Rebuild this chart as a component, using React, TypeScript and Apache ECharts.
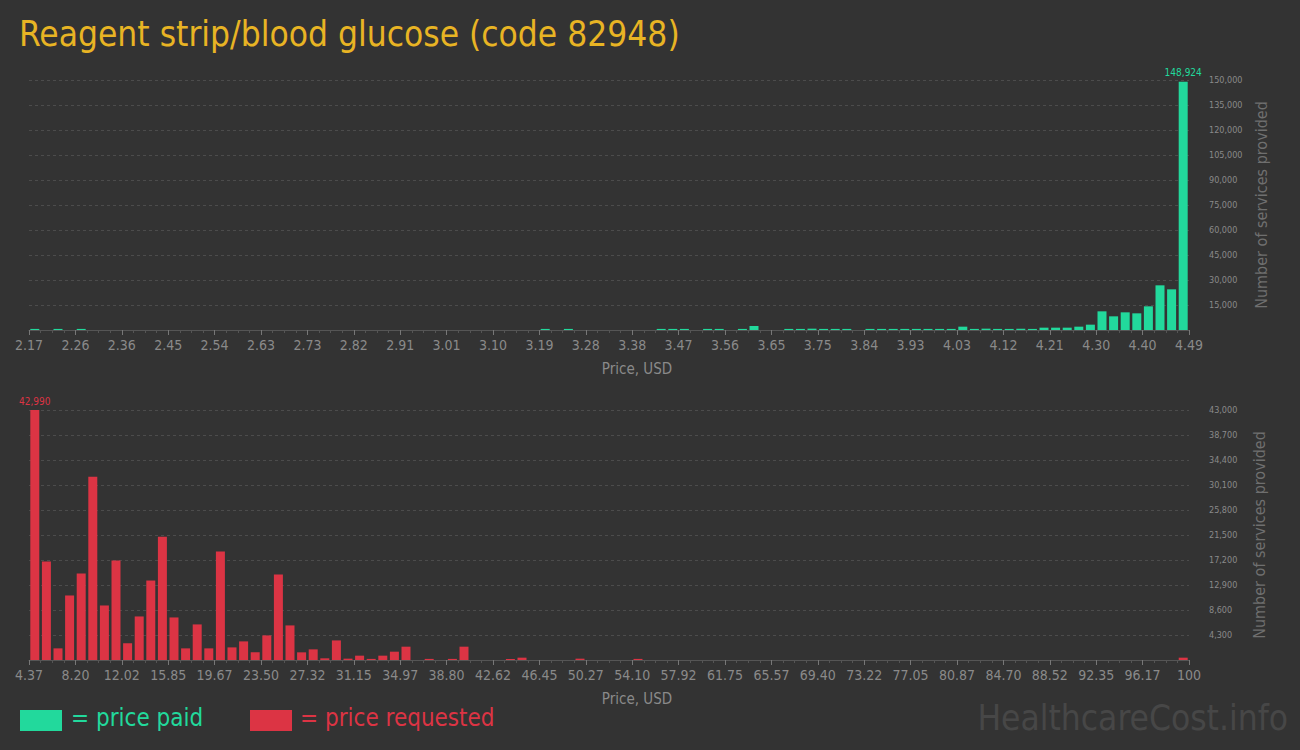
import React, { useEffect, useRef } from "react";
import * as echarts from "echarts";

const paidTickLabels = [
  "2.17", "2.26", "2.36", "2.45", "2.54", "2.63", "2.73", "2.82", "2.91", "3.01",
  "3.10", "3.19", "3.28", "3.38", "3.47", "3.56", "3.65", "3.75", "3.84", "3.93",
  "4.03", "4.12", "4.21", "4.30", "4.40", "4.49",
];
const requestedTickLabels = [
  "4.37", "8.20", "12.02", "15.85", "19.67", "23.50", "27.32", "31.15", "34.97", "38.80",
  "42.62", "46.45", "50.27", "54.10", "57.92", "61.75", "65.57", "69.40", "73.22", "77.05",
  "80.87", "84.70", "88.52", "92.35", "96.17", "100",
];

// 100 price bins each
const paidCounts = [
  650, 0, 650, 0, 650, 0, 0, 0, 0, 0,
  0, 0, 0, 0, 0, 0, 0, 0, 0, 0,
  0, 0, 0, 0, 0, 0, 0, 0, 0, 0,
  0, 0, 0, 0, 0, 0, 0, 0, 0, 0,
  0, 0, 0, 0, 650, 0, 650, 0, 0, 0,
  0, 0, 0, 0, 650, 650, 650, 0, 650, 650,
  0, 650, 2400, 0, 0, 650, 650, 800, 650, 650,
  650, 0, 650, 650, 650, 650, 650, 650, 650, 650,
  2000, 650, 800, 650, 650, 800, 650, 1400, 1400, 1400,
  2000, 3200, 11200, 8200, 10600, 10000, 14200, 26800, 24400, 148924,
];
const requestedCounts = [
  42990, 16930, 2000, 11100, 14870, 31520, 9380, 17100, 2860, 7490,
  13670, 21220, 7320, 2000, 6120, 2000, 18650, 2170, 3200, 1320,
  4230, 14700, 5950, 1320, 1830, 290, 3370, 230, 745, 190,
  745, 1430, 2290, 0, 190, 0, 190, 2290, 0, 0,
  0, 190, 400, 0, 0, 0, 0, 230, 0, 0,
  0, 0, 190, 0, 0, 0, 0, 0, 0, 0,
  0, 0, 0, 0, 0, 0, 0, 0, 0, 0,
  0, 0, 0, 0, 0, 0, 0, 0, 0, 0,
  0, 0, 0, 0, 0, 0, 0, 0, 0, 0,
  0, 0, 0, 0, 0, 0, 0, 0, 0, 400,
];

const paidAxisMax = 150000;
const paidAxisStep = 15000;
const requestedAxisMax = 43000;
const requestedAxisStep = 4300;

const GREEN = "#22d99c";
const RED = "#dc3444";
const FONT = "'Liberation Sans Narrow', 'DejaVu Sans Condensed', 'Roboto', sans-serif";

function buildData(counts: number[], color: string) {
  const max = Math.max(...counts);
  return counts.map((v, i) => {
    const item: any = { value: [i + 0.5, v] };
    if (v === max) {
      item.label = {
        show: true,
        position: "top",
        distance: 4,
        color,
        fontSize: 10,
        fontFamily: FONT,
        formatter: () => v.toLocaleString("en-US"),
      };
    }
    return item;
  });
}

function xAxis(gridIndex: number, labels: string[]) {
  return {
    type: "value",
    gridIndex,
    min: 0,
    max: 100,
    interval: 4,
    z: 0,
    name: "Price, USD",
    nameLocation: "middle",
    nameGap: 31,
    nameTextStyle: { color: "#8a8a8a", fontSize: 15, fontFamily: FONT, padding: [0, 0, 0, 56] },
    axisLine: { show: true, lineStyle: { color: "#555", width: 1 } },
    axisTick: { show: true, length: 5, lineStyle: { color: "#777" } },
    minorTick: { show: true, splitNumber: 4, length: 3, lineStyle: { color: "#555" } },
    splitLine: { show: false },
    axisLabel: {
      color: "#8a8a8a",
      fontSize: 14,
      fontFamily: FONT,
      margin: 8,
      formatter: (v: number) => {
        const i = Math.round(v / 4);
        return Math.abs(v - i * 4) < 1e-6 ? labels[i] ?? "" : "";
      },
    },
  };
}

function yAxis(gridIndex: number, max: number, step: number) {
  return {
    type: "value",
    gridIndex,
    position: "right",
    min: 0,
    max,
    interval: step,
    name: "Number of services provided",
    nameLocation: "middle",
    nameRotate: 90,
    nameGap: 62,
    nameTextStyle: { color: "#6f6f6f", fontSize: 16, fontFamily: FONT },
    axisLine: { show: false },
    axisTick: { show: false },
    splitLine: { show: true, lineStyle: { color: "#4c4c4c", type: [3, 3], width: 1 } },
    axisLabel: {
      color: "#8a8a8a",
      fontSize: 9,
      fontFamily: FONT,
      margin: 20,
      formatter: (v: number) => (v === 0 ? "" : v.toLocaleString("en-US")),
    },
  };
}

export default function App() {
  const ref = useRef<HTMLDivElement>(null);
  useEffect(() => {
    if (!ref.current) return;
    const chart = echarts.init(ref.current, null, { renderer: "svg" });
    chart.setOption({
      animation: false,
      backgroundColor: "#333333",
      title: {
        text: "Reagent strip/blood glucose (code 82948)",
        left: 14,
        top: 11,
        textStyle: { color: "#e8b424", fontSize: 35, fontWeight: "normal", fontFamily: FONT },
      },
      grid: [
        { left: 29, right: 111, top: 80, height: 250 },
        { left: 29, right: 111, top: 410, height: 250 },
      ],
      xAxis: [xAxis(0, paidTickLabels), xAxis(1, requestedTickLabels)],
      yAxis: [
        yAxis(0, paidAxisMax, paidAxisStep),
        yAxis(1, requestedAxisMax, requestedAxisStep),
      ],
      series: [
        {
          type: "bar",
          xAxisIndex: 0,
          yAxisIndex: 0,
          barWidth: 9,
          z: 5,
          itemStyle: { color: GREEN },
          data: buildData(paidCounts, GREEN),
        },
        {
          type: "bar",
          xAxisIndex: 1,
          yAxisIndex: 1,
          barWidth: 9,
          z: 5,
          itemStyle: { color: RED },
          data: buildData(requestedCounts, RED),
        },
      ],
      graphic: [
        { type: "rect", left: 20, top: 710, shape: { width: 42, height: 21 }, style: { fill: GREEN } },
        {
          type: "text",
          left: 71,
          top: 706,
          style: { text: "= price paid", fill: GREEN, fontSize: 24, fontFamily: FONT },
        },
        { type: "rect", left: 250, top: 710, shape: { width: 42, height: 21 }, style: { fill: RED } },
        {
          type: "text",
          left: 300,
          top: 706,
          style: { text: "= price requested", fill: RED, fontSize: 24, fontFamily: FONT },
        },
        {
          type: "text",
          right: 12,
          top: 700,
          style: { text: "HealthcareCost.info", fill: "#474747", fontSize: 35, fontFamily: FONT },
        },
      ],
    });
    return () => chart.dispose();
  }, []);
  return (
    <div
      ref={ref}
      style={{ position: "fixed", left: 0, top: 0, width: 1300, height: 750 }}
    />
  );
}
